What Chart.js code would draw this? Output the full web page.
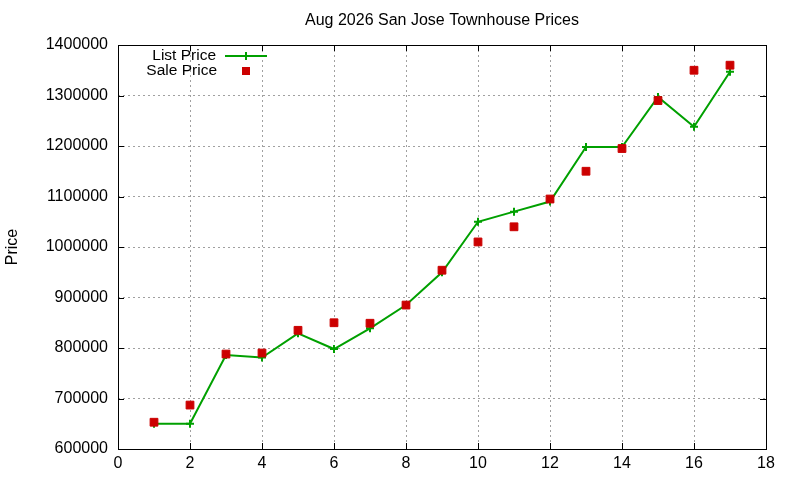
<!DOCTYPE html>
<html>
<head>
<meta charset="utf-8">
<script src="https://cdn.jsdelivr.net/npm/chart.js@4/dist/chart.umd.min.js"></script>
<style>
html,body{margin:0;padding:0;background:#fff;}
#wrap{width:800px;height:480px;}
</style>
</head>
<body>
<div id="wrap"><canvas id="c" width="800" height="480"></canvas></div>
<script>
const titleText = "Aug 2026 San Jose Townhouse Prices";
const yAxisTitle = "Price";
const xValues = [1,2,3,4,5,6,7,8,9,10,11,12,13,14,15,16,17];
const listPrice = [650000,650000,786000,781000,829000,798000,839000,885000,950000,1050000,1070000,1090000,1198000,1198000,1297000,1238000,1347000];
const salePrice = [653000,687000,788000,790000,835000,850000,849000,885000,954000,1010000,1040000,1095000,1150000,1195000,1290000,1350000,1360000];
const seriesNames = ["List Price","Sale Price"];
const xMin = 0, xMax = 18, xStep = 2;
const yMin = 600000, yMax = 1400000, yStep = 100000;

const FONT = "'Liberation Sans', Arial, Helvetica, sans-serif";
const GREEN = "#00a000";
const RED = "#cc0000";

const frame = {
  id: 'frame',
  beforeDatasetsDraw(chart) {
    const {ctx, chartArea: a, scales} = chart;
    ctx.save();
    ctx.strokeStyle = '#000';
    ctx.lineWidth = 1;
    ctx.setLineDash([]);
    const L = 6;
    ctx.beginPath();
    scales.x.ticks.forEach(t => {
      const px = Math.round(scales.x.getPixelForValue(t.value)) + 0.5;
      ctx.moveTo(px, a.bottom); ctx.lineTo(px, a.bottom - L);
      ctx.moveTo(px, a.top); ctx.lineTo(px, a.top + L);
    });
    scales.y.ticks.forEach(t => {
      const py = Math.round(scales.y.getPixelForValue(t.value)) + 0.5;
      ctx.moveTo(a.left, py); ctx.lineTo(a.left + L, py);
      ctx.moveTo(a.right, py); ctx.lineTo(a.right - L, py);
    });
    ctx.stroke();
    ctx.strokeRect(Math.round(a.left)+0.5, Math.round(a.top)+0.5, Math.round(a.right-a.left), Math.round(a.bottom-a.top));
    ctx.restore();
  },
  afterDraw(chart) {
    const {ctx, chartArea: a} = chart;
    ctx.save();
    ctx.fillStyle = '#000';
    ctx.font = "16px " + FONT;
    ctx.textAlign = 'center';
    ctx.textBaseline = 'middle';
    ctx.fillText(titleText, (a.left + a.right) / 2, 21);
    ctx.font = "15.5px " + FONT;
    ctx.textAlign = 'right';
    ctx.fillText(seriesNames[0], 216, 56);
    ctx.fillText(seriesNames[1], 217, 71);
    ctx.strokeStyle = GREEN;
    ctx.lineWidth = 2;
    ctx.beginPath();
    ctx.moveTo(225, 56); ctx.lineTo(267, 56);
    ctx.moveTo(246, 52); ctx.lineTo(246, 60);
    ctx.stroke();
    ctx.fillStyle = RED;
    ctx.fillRect(242, 67, 8, 8);
    ctx.restore();
  }
};

new Chart(document.getElementById('c'), {
  type: 'line',
  data: {
    datasets: [
      {
        label: seriesNames[0],
        data: xValues.map((x, i) => ({x: x, y: listPrice[i]})),
        borderColor: GREEN,
        backgroundColor: GREEN,
        borderWidth: 2,
        pointStyle: 'cross',
        pointRadius: 4,
        pointBorderWidth: 2,
        pointBorderColor: GREEN,
        tension: 0,
        fill: false,
        order: 2
      },
      {
        label: seriesNames[1],
        data: xValues.map((x, i) => ({x: x, y: salePrice[i]})),
        showLine: false,
        pointStyle: 'rect',
        pointRadius: 5.5,
        pointBorderWidth: 1,
        pointBackgroundColor: RED,
        pointBorderColor: RED,
        backgroundColor: RED,
        borderColor: RED,
        order: 1
      }
    ]
  },
  options: {
    responsive: false,
    animation: false,
    events: [],
    layout: {padding: {left: 0, right: 34, top: 45, bottom: 0}},
    plugins: {
      legend: {display: false},
      tooltip: {enabled: false},
      title: {display: false}
    },
    scales: {
      x: {
        type: 'linear',
        min: xMin, max: xMax,
        ticks: {stepSize: xStep, color: '#000', font: {family: FONT, size: 16}, padding: 5, maxRotation: 0},
        grid: {color: '#a0a0a0', lineWidth: 1, drawTicks: false},
        border: {display: false, dash: [2, 3]},
        afterFit(s) { s.height = 31; }
      },
      y: {
        type: 'linear',
        min: yMin, max: yMax,
        ticks: {stepSize: yStep, color: '#000', font: {family: FONT, size: 16}, padding: 10,
          callback: v => String(v)},
        grid: {color: '#a0a0a0', lineWidth: 1, drawTicks: false},
        border: {display: false, dash: [2, 3]},
        title: {display: true, text: yAxisTitle, color: '#000', font: {family: FONT, size: 16}, padding: {top: 3, bottom: 0}},
        afterFit(s) { s.width = 118; }
      }
    }
  },
  plugins: [frame]
});
</script>
</body>
</html>
